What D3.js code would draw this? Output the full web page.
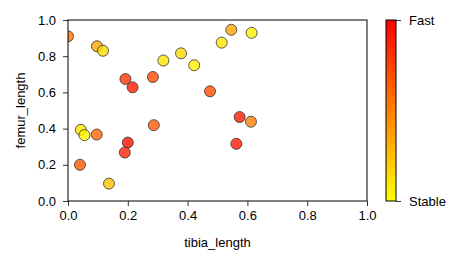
<!DOCTYPE html>
<html>
<head>
    <title>Scatter</title>
    <script src="https://d3js.org/d3.v7.min.js"></script>
    <style>
        body { margin: 0; background: #fff; }
        text { font-family: "Liberation Sans", Arial, sans-serif; fill: #000; }
    </style>
</head>
<body>
    <svg width="463" height="264"></svg>
    <script>
        // data
        const tibia = [0.0, 0.097, 0.117, 0.319, 0.378, 0.422, 0.192, 0.216, 0.284, 0.475, 0.546, 0.514,
                       0.614, 0.043, 0.055, 0.096, 0.287, 0.200, 0.190, 0.040, 0.137, 0.574, 0.612, 0.563];
        const femur = [0.91, 0.855, 0.83, 0.776, 0.816, 0.75, 0.674, 0.628, 0.685, 0.606, 0.946, 0.875,
                       0.929, 0.393, 0.364, 0.367, 0.419, 0.323, 0.268, 0.20, 0.096, 0.464, 0.438, 0.316];
        const speed = [0.55, 0.35, 0.15, 0.1, 0.15, 0.05, 0.8, 0.9, 0.7, 0.7, 0.35, 0.1,
                       0.05, 0.1, 0.05, 0.6, 0.65, 0.95, 0.85, 0.65, 0.25, 0.9, 0.5, 0.9];
        const xTicks = [0, 0.2, 0.4, 0.6, 0.8, 1.0];
        const yTicks = [0, 0.2, 0.4, 0.6, 0.8, 1.0];
        const cbarLabels = ["Stable", "Fast"];

        const svg = d3.select("svg"),
              margin = {top: 20, left: 68, right: 367, bottom: 201};

        const x = d3.scaleLinear().domain([0, 1]).range([margin.left, margin.right]);
        const y = d3.scaleLinear().domain([0, 1]).range([margin.bottom, margin.top]);
        // autumn_r: yellow -> red
        const color = d3.scaleLinear().domain([0, 1]).range(["#ffff00", "#ff0000"]);

        // clip for points
        svg.append("clipPath").attr("id", "clip")
           .append("rect")
           .attr("x", margin.left).attr("y", margin.top)
           .attr("width", margin.right - margin.left)
           .attr("height", margin.bottom - margin.top);

        const data = tibia.map((t, i) => ({t: t, f: femur[i], s: speed[i]}));

        svg.append("g").attr("clip-path", "url(#clip)")
           .selectAll("circle")
           .data(data)
           .enter().append("circle")
           .attr("cx", d => x(d.t))
           .attr("cy", d => y(d.f))
           .attr("r", 5.5)
           .attr("fill", d => color(d.s))
           .attr("fill-opacity", 0.8)
           .attr("stroke", "#333")
           .attr("stroke-width", 0.8);

        // axes
        const fmt = d3.format(".1f");
        const gx = svg.append("g")
           .attr("transform", `translate(0,${margin.bottom})`)
           .call(d3.axisBottom(x).tickValues(xTicks).tickFormat(fmt).tickSize(5).tickPadding(5));
        const gy = svg.append("g")
           .attr("transform", `translate(${margin.left},0)`)
           .call(d3.axisLeft(y).tickValues(yTicks).tickFormat(fmt).tickSize(5).tickPadding(7));
        [gx, gy].forEach(g => {
            g.select(".domain").remove();
            g.selectAll("line").attr("stroke", "#000").attr("stroke-width", 0.8);
            g.selectAll("text").style("font-size", "13px").attr("fill", "#000");
        });

        // frame
        svg.append("rect")
           .attr("x", margin.left).attr("y", margin.top)
           .attr("width", margin.right - margin.left)
           .attr("height", margin.bottom - margin.top)
           .attr("fill", "none").attr("stroke", "#000").attr("stroke-width", 1);

        svg.append("text")
           .attr("x", (margin.left + margin.right) / 2).attr("y", 247)
           .attr("text-anchor", "middle").style("font-size", "13px")
           .text("tibia_length");
        svg.append("text")
           .attr("transform", `translate(25,${(margin.top + margin.bottom) / 2}) rotate(-90)`)
           .attr("text-anchor", "middle").style("font-size", "13px")
           .text("femur_length");

        // colorbar
        const cb = {x: 386, w: 10};
        const defs = svg.append("defs");
        const grad = defs.append("linearGradient").attr("id", "cgrad")
           .attr("x1", 0).attr("y1", 1).attr("x2", 0).attr("y2", 0);
        d3.range(0, 1.01, 0.25).forEach(v => {
            grad.append("stop").attr("offset", v).attr("stop-color", color(v));
        });
        svg.append("rect")
           .attr("x", cb.x).attr("y", margin.top)
           .attr("width", cb.w).attr("height", margin.bottom - margin.top)
           .attr("fill", "url(#cgrad)")
           .attr("stroke", "#000").attr("stroke-width", 1);
        const cy = d3.scaleLinear().domain([0, 1]).range([margin.bottom, margin.top]);
        const gc = svg.append("g")
           .attr("transform", `translate(${cb.x + cb.w},0)`)
           .call(d3.axisRight(cy).tickValues([0, 1]).tickFormat((d, i) => cbarLabels[i]).tickSize(5).tickPadding(8));
        gc.select(".domain").remove();
        gc.selectAll("line").attr("stroke", "#000").attr("stroke-width", 0.8);
        gc.selectAll("text").style("font-size", "13px").attr("fill", "#000");
    </script>
</body>
</html>
